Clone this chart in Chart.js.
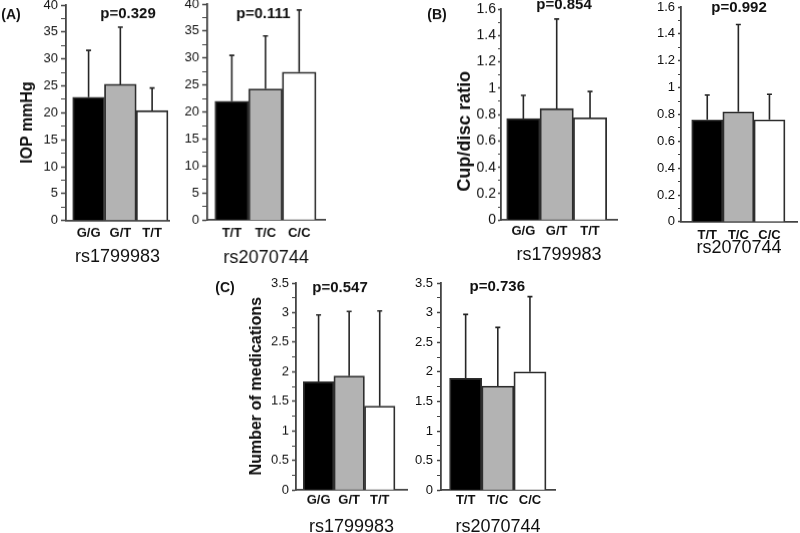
<!DOCTYPE html>
<html>
<head>
<meta charset="utf-8">
<script src="https://cdn.jsdelivr.net/npm/chart.js@4.4.1/dist/chart.umd.min.js"></script>
<style>
  html, body { margin: 0; padding: 0; background: #fff; }
  #wrap { position: relative; width: 800px; height: 533px; overflow: hidden; }
  #wrap canvas { position: absolute; }
</style>
</head>
<body>
<div id="wrap"></div>
<script>
// genotypes per SNP
const snp1Genotypes = ['G/G', 'G/T', 'T/T'];
const snp2Genotypes = ['T/T', 'T/C', 'C/C'];
const barColors = ['#000000', '#b3b3b3', '#ffffff'];

// (A) IOP mmHg, mean and SD
const iopSnp1 = [22.9, 25.3, 20.4];
const iopSnp1Sd = [8.7, 10.6, 4.2];
const iopSnp2 = [22.0, 24.3, 27.4];
const iopSnp2Sd = [8.5, 9.8, 11.5];
// (B) cup/disc ratio
const cdSnp1 = [0.77, 0.845, 0.775];
const cdSnp1Sd = [0.175, 0.68, 0.2];
const cdSnp2 = [0.76, 0.82, 0.76];
const cdSnp2Sd = [0.185, 0.65, 0.19];
// (C) number of medications
const medSnp1 = [1.83, 1.93, 1.42];
const medSnp1Sd = [1.13, 1.09, 1.61];
const medSnp2 = [1.89, 1.76, 2.0];
const medSnp2Sd = [1.08, 0.99, 1.27];

// y tick labels
const iopTicks = [0, 5, 10, 15, 20, 25, 30, 35, 40];
const cdTicks = [0, 0.2, 0.4, 0.6, 0.8, 1, 1.2, 1.4, 1.6];
const medTicks = [0, 0.5, 1, 1.5, 2, 2.5, 3, 3.5];

const pValues = ['p=0.329', 'p=0.111', 'p=0.854', 'p=0.992', 'p=0.547', 'p=0.736'];

Chart.defaults.font.family = '"Liberation Sans", Arial, sans-serif';
Chart.defaults.color = '#111';

const panels = [
  { names: snp1Genotypes, snp: 'rs1799983', mean: iopSnp1, sd: iopSnp1Sd, ticks: iopTicks, p: pValues[0],
    letter: '(A)', yTitle: 'IOP mmHg',
    box: { axL: 66, axR: 169, barL: 72.7, barR: 168, top: 5, bottom: 220.5, yW: 66, tickY: 233, snpY: 257, tl: 5, tp: 3, ty: 13 },
    at: { p: [128, 13.5], letter: [11, 15], title: [28, 122] } },
  { names: snp2Genotypes, snp: 'rs2070744', mean: iopSnp2, sd: iopSnp2Sd, ticks: iopTicks, p: pValues[1],
    box: { axL: 207.3, axR: 325, barL: 215, barR: 316, top: 4, bottom: 220, yW: 40, tickY: 233, snpY: 258, tl: 5, tp: 3, ty: 13 },
    at: { p: [263, 13.5] } },
  { names: snp1Genotypes, snp: 'rs1799983', mean: cdSnp1, sd: cdSnp1Sd, ticks: cdTicks, p: pValues[2],
    letter: '(B)', yTitle: 'Cup/disc ratio',
    box: { axL: 501, axR: 617, barL: 506.7, barR: 606.7, top: 9.3, bottom: 220, yW: 80, tickY: 231, snpY: 255, tl: 3, tp: 2, ty: 14 },
    at: { p: [564, 5], letter: [437, 15], title: [465, 131] } },
  { names: snp2Genotypes, snp: 'rs2070744', mean: cdSnp2, sd: cdSnp2Sd, ticks: cdTicks, p: pValues[3],
    box: { axL: 681, axR: 797, barL: 691.7, barR: 785, top: 6.7, bottom: 221.7, yW: 40, tickY: 235, snpY: 248, tl: 3, tp: 3, ty: 13 },
    at: { p: [739, 7.5] } },
  { names: snp1Genotypes, snp: 'rs1799983', mean: medSnp1, sd: medSnp1Sd, ticks: medTicks, p: pValues[4],
    letter: '(C)', yTitle: 'Number of medications',
    box: { axL: 296, axR: 407, barL: 303.3, barR: 395, top: 283.3, bottom: 490, yW: 84, tickY: 500, snpY: 527, tl: 4, tp: 3, ty: 13 },
    at: { p: [340, 288], letter: [225, 288], title: [257, 386] } },
  { names: snp2Genotypes, snp: 'rs2070744', mean: medSnp2, sd: medSnp2Sd, ticks: medTicks, p: pValues[5],
    box: { axL: 440.7, axR: 555, barL: 449.3, barR: 546, top: 282.7, bottom: 490, yW: 40, tickY: 500, snpY: 527, tl: 4, tp: 4, ty: 13 },
    at: { p: [497, 287] } }
];

// error bars (mean + SD) drawn on top of each bar
const errorBars = {
  id: 'errorBars',
  afterDatasetsDraw(chart, args, opts) {
    const ctx = chart.ctx;
    const y = chart.scales.y;
    const ds = chart.data.datasets[0];
    ctx.save();
    ctx.strokeStyle = '#262626';
    ctx.lineWidth = 1.6;
    chart.getDatasetMeta(0).data.forEach((bar, i) => {
      const yTop = y.getPixelForValue(ds.mean[i] + ds.sd[i]);
      ctx.beginPath();
      ctx.moveTo(bar.x, bar.y);
      ctx.lineTo(bar.x, yTop);
      ctx.moveTo(bar.x - 2.5, yTop);
      ctx.lineTo(bar.x + 2.5, yTop);
      ctx.stroke();
    });
    ctx.restore();
  }
};

// p-value, panel letter and rotated y title
const panelText = {
  id: 'panelText',
  afterDraw(chart, args, opts) {
    const ctx = chart.ctx;
    const ff = Chart.defaults.font.family;
    ctx.save();
    ctx.fillStyle = '#111';
    ctx.textAlign = 'center';
    ctx.textBaseline = 'middle';
    ctx.font = 'bold 15px ' + ff;
    ctx.fillText(opts.p, opts.at.p[0] - opts.left, opts.at.p[1] - opts.top);
    if (opts.letter) {
      ctx.font = 'bold 14px ' + ff;
      ctx.fillText(opts.letter, opts.at.letter[0] - opts.left, opts.at.letter[1] - opts.top);
    }
    if (opts.yTitle) {
      ctx.font = 'bold ' + opts.titleSize + 'px ' + ff;
      ctx.translate(opts.at.title[0] - opts.left, opts.at.title[1] - opts.top);
      ctx.rotate(-Math.PI / 2);
      ctx.fillText(opts.yTitle, 0, 0);
    }
    ctx.restore();
  }
};

const wrap = document.getElementById('wrap');

panels.forEach((pn, k) => {
  const b = pn.box;
  const padTop = 12;
  const snpSize = 18;
  const xFont = 13;
  const xH = b.snpY + snpSize * 0.6 - b.bottom;
  const left = b.axL - b.yW;
  const top = b.top - padTop;
  const width = b.yW + (b.axR - b.axL) + 4;
  const height = padTop + (b.bottom - b.top) + xH;
  const unit = (b.barR - b.barL) / 3;
  const xMin = 0.5 - (b.barL - b.axL) / unit;
  const xMax = 3.5 + (b.axR - b.barR) / unit;
  const major = pn.ticks[1] - pn.ticks[0];
  const isMajor = v => Math.abs(v / major - Math.round(v / major)) < 1e-6;

  const canvas = document.createElement('canvas');
  canvas.width = width;
  canvas.height = height;
  canvas.style.left = left + 'px';
  canvas.style.top = top + 'px';
  canvas.style.width = width + 'px';
  canvas.style.height = height + 'px';
  wrap.appendChild(canvas);

  new Chart(canvas, {
    type: 'bar',
    data: {
      datasets: [{
        data: pn.mean.map((v, i) => ({ x: i + 1, y: v })),
        mean: pn.mean,
        sd: pn.sd,
        backgroundColor: barColors,
        borderColor: '#2e2e2e',
        borderWidth: 1.8,
        barPercentage: 1,
        categoryPercentage: 1
      }]
    },
    options: {
      responsive: false,
      animation: false,
      layout: { padding: { left: 0, top: padTop, right: 4, bottom: 0 } },
      plugins: {
        legend: { display: false },
        tooltip: { enabled: false },
        panelText: {
          p: pn.p, letter: pn.letter, yTitle: pn.yTitle, at: pn.at, left: left, top: top,
          titleSize: k === 2 ? 18 : 16
        }
      },
      scales: {
        x: {
          type: 'linear',
          offset: false,
          min: xMin,
          max: xMax,
          afterBuildTicks: s => { s.ticks = pn.names.map((n, i) => ({ value: i + 1 })); },
          afterFit: s => { s.height = xH; },
          grid: { display: false, drawTicks: false, offset: false },
          border: { display: true, color: '#444', width: 1.8 },
          ticks: {
            autoSkip: false,
            maxRotation: 0,
            padding: b.tickY - b.bottom - xFont * 0.6,
            font: { size: xFont, weight: 'bold' },
            color: '#111',
            callback: (v, i) => pn.names[i]
          },
          title: { display: true, text: pn.snp, padding: 0, font: { size: snpSize }, color: '#111' }
        },
        y: {
          min: pn.ticks[0],
          max: pn.ticks[pn.ticks.length - 1],
          afterFit: s => { s.width = b.yW; },
          grid: {
            display: true,
            drawOnChartArea: false,
            drawTicks: true,
            tickLength: b.tl,
            tickColor: '#444',
            tickWidth: c => (c.tick && isMajor(c.tick.value) ? 1.5 : 1)
          },
          border: { display: true, color: '#444', width: 1.8 },
          ticks: {
            stepSize: major / 2,
            autoSkip: false,
            padding: b.tp,
            font: { size: b.ty },
            color: '#111',
            callback: v => (isMajor(v) ? String(+v.toFixed(2)) : '')
          }
        }
      }
    },
    plugins: [errorBars, panelText]
  });
});
</script>
</body>
</html>
